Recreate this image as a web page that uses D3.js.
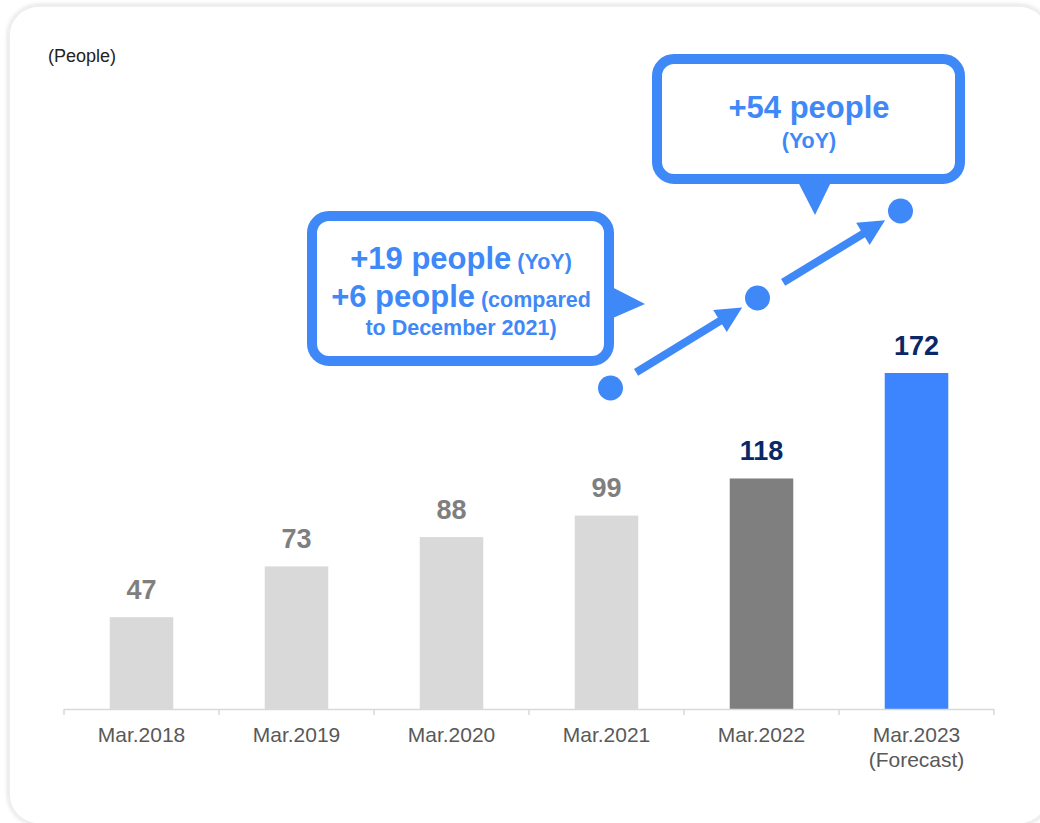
<!DOCTYPE html>
<html>
<head>
<meta charset="utf-8">
<script src="https://cdn.jsdelivr.net/npm/d3@7"></script>
<style>
  html, body { margin: 0; padding: 0; background: #ffffff; }
  svg { display: block; font-family: Arial, "Liberation Sans", sans-serif; }
</style>
</head>
<body>
<svg id="chart" width="1040" height="823"></svg>
<script>
// Headcount at fiscal year end
const categories = ["Mar.2018", "Mar.2019", "Mar.2020", "Mar.2021", "Mar.2022", "Mar.2023"];
const subLabels = ["", "", "", "", "", "(Forecast)"];
const values = [47, 73, 88, 99, 118, 172];
const barColors = ["#d9d9d9", "#d9d9d9", "#d9d9d9", "#d9d9d9", "#7f7f7f", "#3d85fe"];
const labelColors = ["#7f7f7f", "#7f7f7f", "#7f7f7f", "#7f7f7f", "#0b2866", "#0b2866"];
const unitLabel = "(People)";

// Callout texts
const callout1Lines = [
  [{ t: "+19 people", big: true }, { t: " (YoY)", big: false }],
  [{ t: "+6 people", big: true }, { t: " (compared", big: false }],
  [{ t: "to December 2021)", big: false }]
];
const callout2Lines = [
  [{ t: "+54 people", big: true }],
  [{ t: "(YoY)", big: false }]
];

const accent = "#3f88f8";
const svg = d3.select("#chart");

// Card background with soft shadow
const defs = svg.append("defs");
const f = defs.append("filter").attr("id", "shadow")
  .attr("x", "-5%").attr("y", "-5%").attr("width", "110%").attr("height", "110%");
f.append("feGaussianBlur").attr("in", "SourceAlpha").attr("stdDeviation", 2.5);
f.append("feOffset").attr("dx", 0).attr("dy", 0).attr("result", "b");
f.append("feComponentTransfer").append("feFuncA").attr("type", "linear").attr("slope", 0.18);
const m = f.append("feMerge");
m.append("feMergeNode");
m.append("feMergeNode").attr("in", "SourceGraphic");

svg.append("rect")
  .attr("x", 9).attr("y", 6).attr("width", 1040).attr("height", 818)
  .attr("rx", 30).attr("ry", 30)
  .attr("fill", "#ffffff")
  .attr("stroke", "#ececec").attr("stroke-width", 1.5)
  .attr("filter", "url(#shadow)");

// Scales
const baseY = 709;
const x = d3.scaleBand().domain(categories).range([64, 994]).paddingInner(0.59).paddingOuter(0.295);
const xAxisBand = d3.scaleBand().domain(categories).range([64, 994]);
const y = d3.scaleLinear().domain([0, 172]).range([baseY, 373]);

// Unit label
svg.append("text")
  .attr("x", 48).attr("y", 62)
  .attr("font-size", 18).attr("fill", "#222")
  .text(unitLabel);

// Bars
svg.append("g").selectAll("rect")
  .data(values)
  .join("rect")
  .attr("x", (d, i) => x(categories[i]))
  .attr("width", x.bandwidth())
  .attr("y", d => y(d))
  .attr("height", d => baseY - y(d))
  .attr("fill", (d, i) => barColors[i]);

// Value labels
svg.append("g").selectAll("text")
  .data(values)
  .join("text")
  .attr("x", (d, i) => x(categories[i]) + x.bandwidth() / 2)
  .attr("y", d => y(d) - 18.5)
  .attr("text-anchor", "middle")
  .attr("font-size", 27).attr("font-weight", "bold")
  .attr("fill", (d, i) => labelColors[i])
  .text(d => d);

// Axis line with boundary ticks
const axisG = svg.append("g");
axisG.append("line")
  .attr("x1", 64).attr("x2", 994).attr("y1", baseY + 0.5).attr("y2", baseY + 0.5)
  .attr("stroke", "#d9d9d9").attr("stroke-width", 1.5);
const boundaries = categories.map(c => xAxisBand(c)).concat([xAxisBand.range()[1]]);
axisG.selectAll("line.tick")
  .data(boundaries)
  .join("line").attr("class", "tick")
  .attr("x1", d => d).attr("x2", d => d)
  .attr("y1", baseY).attr("y2", baseY + 6)
  .attr("stroke", "#d9d9d9").attr("stroke-width", 1.5);

const catText = axisG.selectAll("text.cat")
  .data(categories)
  .join("text").attr("class", "cat")
  .attr("x", d => xAxisBand(d) + xAxisBand.bandwidth() / 2)
  .attr("y", 742)
  .attr("text-anchor", "middle")
  .attr("font-size", 21).attr("fill", "#595959");
catText.append("tspan").text(d => d);
catText.append("tspan")
  .attr("x", d => xAxisBand(d) + xAxisBand.bandwidth() / 2)
  .attr("dy", 25)
  .text((d, i) => subLabels[i]);

// Callout helper: rounded box plus a pointer triangle
function callout(box, pointer, lines, baselines, cx) {
  const g = svg.append("g");
  g.append("polygon")
    .attr("points", pointer.map(p => p.join(",")).join(" "))
    .attr("fill", accent);
  g.append("rect")
    .attr("x", box.x).attr("y", box.y).attr("width", box.w).attr("height", box.h)
    .attr("rx", 17).attr("ry", 17)
    .attr("fill", "#ffffff").attr("stroke", accent).attr("stroke-width", 10);
  lines.forEach((line, i) => {
    const t = g.append("text")
      .attr("x", cx).attr("y", baselines[i])
      .attr("text-anchor", "middle")
      .attr("font-weight", "bold").attr("fill", accent);
    line.forEach(seg => {
      t.append("tspan")
        .attr("font-size", seg.big ? 31 : 21.5)
        .text(seg.t);
    });
  });
}

callout({ x: 312, y: 216, w: 297, h: 145 },
  [[606, 284], [645, 304], [606, 321]],
  callout1Lines, [269, 307, 335], 461);

callout({ x: 657, y: 59, w: 303, h: 120 },
  [[795, 176], [815, 215], [834, 176]],
  callout2Lines, [118, 148], 809);

// Growth trend dots and arrows
const bw = xAxisBand.bandwidth();
const trendDots = [
  { cat: "Mar.2021", dx: 4, py: 388 },
  { cat: "Mar.2022", dx: -4, py: 298 },
  { cat: "Mar.2023", dx: -16, py: 211 }
];
const pts = trendDots.map(d => [xAxisBand(d.cat) + bw / 2 + d.dx, d.py]);

svg.append("g").selectAll("circle")
  .data(pts)
  .join("circle")
  .attr("cx", d => d[0]).attr("cy", d => d[1])
  .attr("r", 12.5).attr("fill", accent);

function arrow(a, b) {
  // shorten from both dots
  const dx = b[0] - a[0], dy = b[1] - a[1];
  const len = Math.hypot(dx, dy);
  const ux = dx / len, uy = dy / len;
  const s = [a[0] + ux * 30, a[1] + uy * 30];
  const tip = [b[0] - ux * 18, b[1] - uy * 18];
  const headLen = 26, headW = 13;
  const base = [tip[0] - ux * headLen, tip[1] - uy * headLen];
  const nx = -uy, ny = ux;
  svg.append("line")
    .attr("x1", s[0]).attr("y1", s[1])
    .attr("x2", base[0] + ux * 2).attr("y2", base[1] + uy * 2)
    .attr("stroke", accent).attr("stroke-width", 8);
  svg.append("polygon")
    .attr("points", [
      tip,
      [base[0] + nx * headW, base[1] + ny * headW],
      [base[0] - nx * headW, base[1] - ny * headW]
    ].map(p => p.join(",")).join(" "))
    .attr("fill", accent);
}
arrow(pts[0], pts[1]);
arrow(pts[1], pts[2]);
</script>
</body>
</html>
